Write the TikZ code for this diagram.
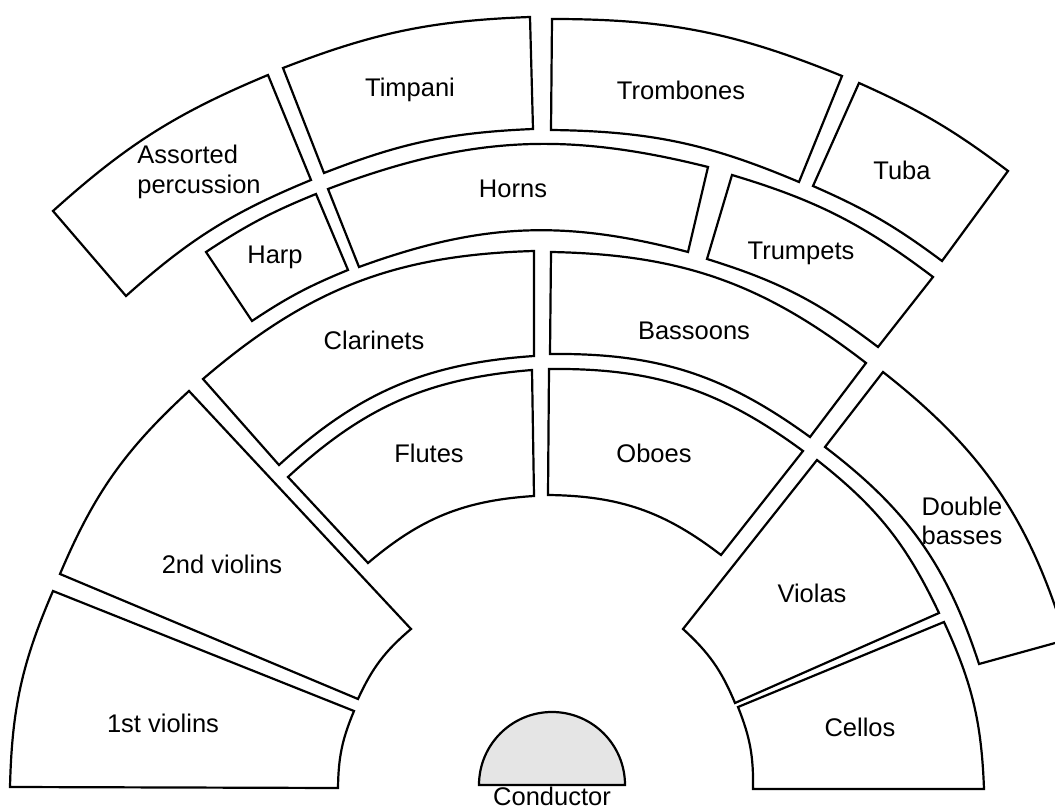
\documentclass[tikz,border=0pt]{standalone}
\usepackage{fontspec}
\setmainfont{Liberation Sans}

\begin{document}
\begin{tikzpicture}[
  x=0.5pt, y=0.5pt,
  every node/.style={font=\fontsize{12.75}{14.7}\selectfont},
  sect/.style ={draw, line width=1.1pt, line join=miter},
  cond/.style ={draw, line width=1.1pt, fill=gray!20},
  lbl/.style  ={inner sep=0pt, align=center}
]
\useasboundingbox (0,0) rectangle (1055,809);
\clip (0,0) rectangle (1055,809);

%% ---- Strings (front ring) --------------------------------------------
\draw[sect] (10,22)   to[bend left=11]   (53,218)  -- (354,98)  to[bend right=11]   (338,21)  -- cycle;
\draw[sect] (60,235)  to[bend left=12.2] (189,418) -- (411,180) to[bend right=12.5] (358,110) -- cycle;
\draw[sect] (817,349) to[bend left=13.2] (939,196) -- (735,106) to[bend right=12.5] (683,180) -- cycle;
\draw[sect] (944,187) to[bend left=11.3] (984,20)  -- (753,20)  to[bend right=11.4] (738,102) -- cycle;
\draw[sect] (883,437) to[bend left=17.5] (1066,169) -- (979,145) to[bend right=17.3] (825,362) -- cycle;

%% ---- Woodwinds ---------------------------------------------------------
\draw[sect] (288,332) to[bend left=19]   (532,439) -- (534,313) to[bend right=18.3] (368,246) -- cycle;
\draw[sect] (549,440) to[bend left=18.5] (803,358) -- (721,254) to[bend right=18.4] (548,314) -- cycle;
\draw[sect] (203,430) to[bend left=19.5] (534,558) -- (534,453) to[bend right=19.2] (279,344) -- cycle;
\draw[sect] (551,557) to[bend left=18.3] (866,446) -- (810,372) to[bend right=18.3] (550,455) -- cycle;

%% ---- Brass, harp ------------------------------------------------------
\draw[sect] (206,557) to[bend left=5.7]  (316,615) -- (348,539) to[bend right=5.7]  (252,488) -- cycle;
\draw[sect] (328,620) to[bend left=17.4] (708,642) -- (688,557) to[bend right=17.4] (359,542) -- cycle;
\draw[sect] (732,634) to[bend left=10.2] (933,532) -- (878,462) to[bend right=10]   (707,550) -- cycle;

%% ---- Back row ----------------------------------------------------------
\draw[sect] (53,598)  to[bend left=9.7]  (268,734) -- (311,629) to[bend right=9.7]  (126,513) -- cycle;
\draw[sect] (283,741) to[bend left=9.5]  (530,792) -- (533,680) to[bend right=9.4]  (324,636) -- cycle;
\draw[sect] (552,790) to[bend left=11.1] (842,733) -- (799,627) to[bend right=11.1] (551,679) -- cycle;
\draw[sect] (859,726) to[bend left=6.5]  (1008,638) -- (942,548) to[bend right=6.5] (813,623) -- cycle;

%% ---- Conductor ---------------------------------------------------------
\draw[cond] (479,24) arc[start angle=180, end angle=0, radius=73] -- cycle;

% labels
\node[lbl]             (vln1)  at (163,86)  {1st violins};
\node[lbl]             (vln2)  at (222,245) {2nd violins};
\node[lbl]             (vla)   at (812,216) {Violas};
\node[lbl]             (vc)    at (860,82)  {Cellos};
\node[lbl]             (cb)    at (962,288) {Double\\basses};
\node[lbl]             (fl)    at (429,356) {Flutes};
\node[lbl]             (ob)    at (654,356) {Oboes};
\node[lbl]             (cl)    at (374,469) {Clarinets};
\node[lbl]             (fg)    at (694,478) {Bassoons};
\node[lbl]             (hp)    at (275,552) {Harp};
\node[lbl]             (hn)    at (513,620) {Horns};
\node[lbl]             (tpt)   at (801,556) {Trumpets};
\node[lbl, align=left] (perc)  at (199,637) {Assorted\\percussion};
\node[lbl]             (timp)  at (410,719) {Timpani};
\node[lbl]             (tbn)   at (681,719) {Trombones};
\node[lbl]             (tba)   at (902,639) {Tuba};
\node[lbl, anchor=base] (cond) at (552,4)   {Conductor};

\end{tikzpicture}
\end{document}
